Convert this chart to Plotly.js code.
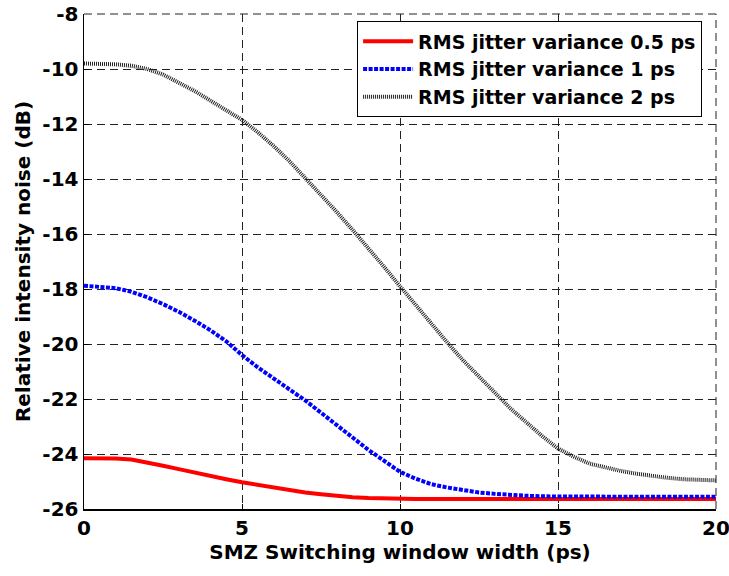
<!DOCTYPE html>
<html>
<head>
<meta charset="utf-8">
<script src="https://cdn.plot.ly/plotly-3.0.1.min.js"></script>
<style>html,body{margin:0;padding:0;background:#fff;}#plot{width:729px;height:576px;}</style>
</head>
<body>
<div id="plot"></div>
<script>
const xWidth = [0,0.5,1,1.5,2,2.5,3,3.5,4,4.5,5,5.5,6,6.5,7,7.5,8,8.5,9,9.5,10,10.5,11,11.5,12,12.5,13,13.5,14,14.5,15,15.5,16,16.5,17,17.5,18,18.5,19,19.5,20];
const rin05 = [-24.15,-24.15,-24.16,-24.2,-24.3,-24.43,-24.55,-24.68,-24.8,-24.92,-25.03,-25.13,-25.23,-25.32,-25.4,-25.46,-25.52,-25.57,-25.6,-25.62,-25.64,-25.64,-25.64,-25.64,-25.64,-25.64,-25.64,-25.64,-25.64,-25.64,-25.64,-25.64,-25.64,-25.64,-25.64,-25.64,-25.64,-25.64,-25.64,-25.64,-25.64];
const rin1 = [-17.88,-17.92,-17.97,-18.1,-18.3,-18.55,-18.83,-19.15,-19.5,-19.9,-20.4,-20.85,-21.25,-21.65,-22.05,-22.5,-22.95,-23.4,-23.85,-24.25,-24.65,-24.9,-25.1,-25.22,-25.32,-25.4,-25.45,-25.5,-25.52,-25.54,-25.55,-25.55,-25.55,-25.55,-25.55,-25.55,-25.55,-25.55,-25.55,-25.55,-25.55];
const rin2 = [-9.8,-9.8,-9.83,-9.88,-10.0,-10.2,-10.5,-10.8,-11.15,-11.5,-11.85,-12.3,-12.8,-13.35,-13.95,-14.55,-15.2,-15.85,-16.5,-17.2,-17.9,-18.6,-19.3,-19.95,-20.6,-21.2,-21.8,-22.35,-22.85,-23.35,-23.8,-24.1,-24.35,-24.5,-24.62,-24.72,-24.8,-24.87,-24.92,-24.95,-24.96];
const seriesNames = ['RMS jitter variance 0.5 ps','RMS jitter variance 1 ps','RMS jitter variance 2 ps'];
const xTicks = [0,5,10,15,20];
const yTicks = [-26,-24,-22,-20,-18,-16,-14,-12,-10,-8];

const traces = [
  {x: xWidth, y: rin05, name: seriesNames[0], mode: 'lines', line: {color: '#ff0000', width: 4}},
  {x: xWidth, y: rin1, name: seriesNames[1], mode: 'lines', line: {color: '#0000ff', width: 4, dash: '4px,1.5px'}},
  {x: xWidth, y: rin2, name: seriesNames[2], mode: 'lines', line: {color: '#222222', width: 4, dash: '1px,1px'}}
];

const font = {family: 'DejaVu Sans, sans-serif', size: 20, color: '#000', weight: 'bold'};
const legFont = Object.assign({}, font, {size: 19});
const axisCommon = {
  showgrid: true, gridcolor: '#222', gridwidth: 1, griddash: '8px,5px',
  zeroline: false, showline: true, linecolor: '#000', linewidth: 1.5,
  ticks: 'inside', ticklen: 5, tickcolor: '#000',
  tickfont: font, ticklabeloverflow: 'allow'
};

const edgeLine = {color: '#222', width: 1, dash: '8px,5px'};
const layout = {
  width: 729, height: 576,
  margin: {l: 84, r: 13, t: 14, b: 67},
  paper_bgcolor: '#fff', plot_bgcolor: '#fff',
  font: font,
  showlegend: true,
  legend: {x: 0.978, y: 0.985, xanchor: 'right', yanchor: 'top', bgcolor: '#fff', bordercolor: '#000', borderwidth: 1, font: legFont, tracegroupgap: 0, itemwidth: 50},
  shapes: [
    {type: 'line', xref: 'paper', yref: 'paper', x0: 1, x1: 1, y0: 0, y1: 1, line: edgeLine, layer: 'below'},
    {type: 'line', xref: 'paper', yref: 'paper', x0: 0, x1: 1, y0: 1, y1: 1, line: edgeLine, layer: 'below'}
  ],
  xaxis: Object.assign({}, axisCommon, {range: [0, 20], tickvals: xTicks, ticktext: xTicks.map(String),
    title: {text: 'SMZ Switching window width (ps)', font: font, standoff: 4}}),
  yaxis: Object.assign({}, axisCommon, {range: [-26, -8], tickvals: yTicks, ticktext: yTicks.map(String),
    title: {text: 'Relative intensity noise (dB)', font: font, standoff: 6}})
};

Plotly.newPlot('plot', traces, layout, {displayModeBar: false, staticPlot: true});
</script>
</body>
</html>
